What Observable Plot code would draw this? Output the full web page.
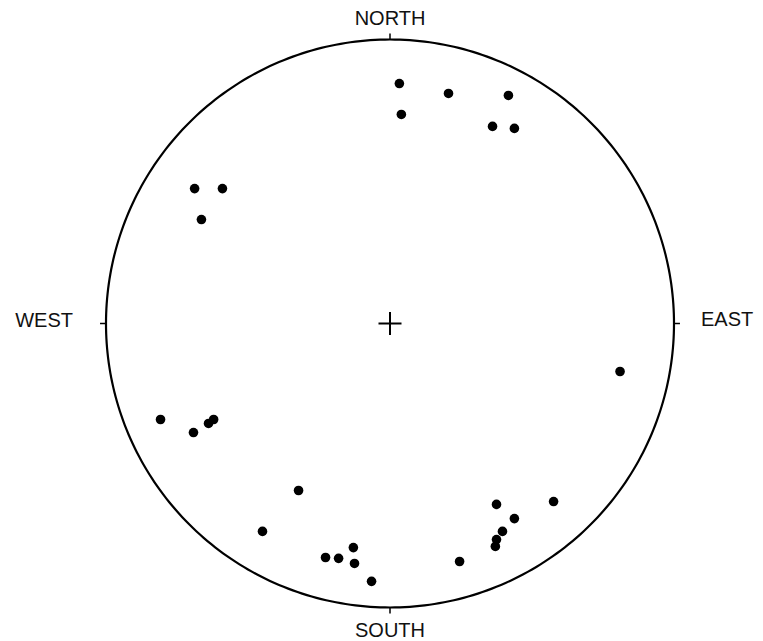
<!DOCTYPE html>
<html>
<head>
<meta charset="utf-8">
<script src="https://cdn.jsdelivr.net/npm/d3@7"></script>
<script src="https://cdn.jsdelivr.net/npm/@observablehq/plot@0.6"></script>
<style>
  html, body { margin: 0; padding: 0; background: #fff; }
  svg { display: block; }
</style>
</head>
<body>
<div id="chart"></div>
<script>
// Pole positions in the net, in units of the net radius (east, north)
const east  = [0.033, 0.206, 0.417, 0.040, 0.361, 0.438,
               -0.688, -0.590, -0.664,
               -0.808, -0.692, -0.639, -0.621,
               -0.322, -0.449, -0.227, -0.181, -0.129, -0.125, -0.065,
               0.375, 0.576, 0.438, 0.396, 0.375, 0.371, 0.245,
               0.810];
const north = [0.845, 0.810, 0.803, 0.736, 0.694, 0.687,
               0.475, 0.475, 0.366,
               -0.338, -0.384, -0.352, -0.338,
               -0.588, -0.732, -0.824, -0.827, -0.789, -0.845, -0.908,
               -0.637, -0.627, -0.687, -0.732, -0.761, -0.785, -0.838,
               -0.169];
const directions = ["NORTH", "EAST", "SOUTH", "WEST"];
const dirAngles = [90, 0, 270, 180];

const points = east.map((e, i) => ({x: e, y: north[i]}));
const circle = d3.range(0, 361, 1).map(a => ({x: Math.cos(a * Math.PI / 180), y: Math.sin(a * Math.PI / 180)}));
const tickLen = 0.021;
const ticks = dirAngles.map(a => {
  const c = Math.cos(a * Math.PI / 180), s = Math.sin(a * Math.PI / 180);
  return {x1: c, y1: s, x2: c * (1 + tickLen), y2: s * (1 + tickLen)};
});
const labels = directions.map((d, i) => {
  const a = dirAngles[i] * Math.PI / 180;
  return {label: d, x: Math.round(Math.cos(a)), y: Math.round(Math.sin(a))};
});
const cs = 0.0405;
const cross = [{x1: -cs, y1: 0, x2: cs, y2: 0}, {x1: 0, y1: -cs, x2: 0, y2: cs}];

const chart = Plot.plot({
  width: 763,
  height: 641,
  marginLeft: 105.5,
  marginRight: 89.5,
  marginTop: 39,
  marginBottom: 34,
  x: {domain: [-1, 1], axis: null},
  y: {domain: [-1, 1], axis: null},
  style: {fontFamily: "'Liberation Sans', Arial, sans-serif", background: "#fff"},
  marks: [
    Plot.line(circle, {x: "x", y: "y", stroke: "black", strokeWidth: 2.2}),
    Plot.link(ticks, {x1: "x1", y1: "y1", x2: "x2", y2: "y2", stroke: "black", strokeWidth: 1.5}),
    Plot.link(cross, {x1: "x1", y1: "y1", x2: "x2", y2: "y2", stroke: "black", strokeWidth: 2}),
    Plot.text(labels.filter(d => d.label === "NORTH"), {x: "x", y: "y", text: "label", dy: -21, fontSize: 20, fill: "#111"}),
    Plot.text(labels.filter(d => d.label === "SOUTH"), {x: "x", y: "y", text: "label", dy: 23, fontSize: 20, fill: "#111"}),
    Plot.text(labels.filter(d => d.label === "WEST"), {x: "x", y: "y", text: "label", dx: -33, dy: -3, textAnchor: "end", fontSize: 20, fill: "#111"}),
    Plot.text(labels.filter(d => d.label === "EAST"), {x: "x", y: "y", text: "label", dx: 27, dy: -4, textAnchor: "start", fontSize: 20, fill: "#111"}),
    Plot.dot(points, {x: "x", y: "y", r: 4.8, fill: "black", stroke: "none"})
  ]
});
document.getElementById("chart").appendChild(chart);
</script>
</body>
</html>
